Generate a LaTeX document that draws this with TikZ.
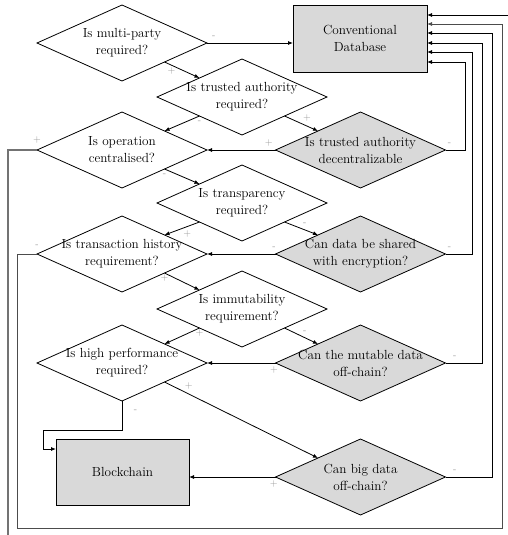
\documentclass[tikz,border=0pt]{standalone}
\usepackage{tikz}
\usetikzlibrary{
  arrows.meta,
  calc,
  positioning,
  shapes,
}
\tikzstyle{arrow} = [
  -{Latex[length=5pt, width=4pt]},
  line width=0.8pt,
  black,
]
\definecolor{boxgray}{RGB}{217, 217, 217}
\definecolor{signgray}{RGB}{150, 150, 150}

\begin{document}
\begin{tikzpicture}[x=1pt, y=-1pt,
    dia/.style={draw, diamond, minimum width=170pt, minimum height=76pt,
                inner sep=0pt, outer sep=0pt, line width=0.8pt},
    gdia/.style={dia, fill=boxgray},
    box/.style={draw, fill=boxgray, line width=0.8pt, minimum width=134pt,
                minimum height=67pt, outer sep=0pt},
    txt/.style={align=center, font=\fontsize{13.2}{17}\selectfont},
    sign/.style={text=signgray, font=\fontsize{10}{10}\selectfont,
                 text height=6pt, text depth=1pt, inner sep=1.5pt}]
      \useasboundingbox (0,0) rectangle (508,535);

      \node [box, txt] (db) at (360,38.5) {Conventional\\Database};
      \node [box, txt, minimum width=133pt, minimum height=66pt] (bc) at (122.5,472)
            {Blockchain};

      \node [dia, label={[txt]center:Is multi-party\\required?}] (party) at (122,43) {};
      \node [dia, label={[txt]center:Is trusted authority\\required?}] (trust) at (242,97) {};
      \node [dia, label={[txt]center:Is operation\\centralised?}] (central) at (122,150) {};
      \node [gdia, label={[txt]center:Is trusted authority\\decentralizable}] (decent)
            at (360.5,150) {};
      \node [dia, label={[txt]center:Is transparency\\required?}] (transp) at (242,203) {};
      \node [dia, label={[txt]center:Is transaction history\\requirement?}] (history)
            at (122,254) {};
      \node [gdia, label={[txt]center:Can data be shared\\with encryption?}] (encrypt)
            at (360.5,254) {};
      \node [dia, label={[txt]center:Is immutability\\requirement?}] (immut) at (242,309) {};
      \node [dia, label={[txt]center:Is high performance\\required?}] (perf) at (122,363) {};
      \node [gdia, label={[txt]center:Can the mutable data\\off-chain?}] (mutable)
            at (360.5,363) {};
      \node [gdia, label={[txt]center:Can big data\\off-chain?}] (bigdata) at (360.5,477) {};

      \coordinate (loopsw) at (17,528);
      \coordinate (loopse) at (502,528);
      \coordinate (exitsw) at (8,535);
      \coordinate (exitne) at (508,15);

      % answers between the questions
      \draw [arrow] (party.east) -- node [sign, pos=0.08, above=2pt] {-} (party.east -| db.west);
      \draw [arrow] (party.south east) -- node [sign, pos=0.2, below] {+} (trust.north west);
      \draw [arrow] (trust.south west) -- node [sign, pos=0, below] {-} (central.north east);
      \draw [arrow] (trust.south east) -- node [sign, pos=0.5, above right] {+} (decent.north west);
      \draw [arrow] (decent.west) -- node [sign, pos=0.1, above=2pt] {+} (central.east);
      \draw [arrow] (central.south east) -- node [sign, pos=0, below] {-} (transp.north west);
      \draw [arrow] (transp.south west) -- node [sign, pos=0.35, below=2pt] {+} (history.north east);
      \draw [arrow] (transp.south east) -- node [sign, pos=0.5, above right] {-} (encrypt.north west);
      \draw [arrow] (encrypt.west) -- node [sign, pos=0.02, above=2pt] {-} (history.east);
      \draw [arrow] (history.south east) -- node [sign, pos=0, below] {+} (immut.north west);
      \draw [arrow] (immut.south west) -- node [sign, pos=0, below] {+} (perf.north east);
      \draw [arrow] (immut.south east) -- node [sign, pos=0.5, above right] {-} (mutable.north west);
      \draw [arrow] (mutable.west) -- node [sign, pos=0.02, below=2pt] {+} (perf.east);
      \draw [arrow] (perf.south east) -- node [sign, pos=0.12, above right] {+} (bigdata.north west);
      \draw [arrow] (bigdata.west) -- node [sign, pos=0.02, below=2pt] {+} (bc.east |- bigdata.west);
      \draw [arrow] (perf.south) -- node [sign, pos=0.3, right=10pt] {-} ++(0,29) -- ++(-79,0)
            |- (bc.west |- 0,449);

      % negative answers back to the database
      \draw [arrow] (decent.east) -- node [sign, pos=0.2, above=2pt] {-} ++(20,0)
            |- (db.east |- 0,62);
      \draw [arrow] (encrypt.east) -- node [sign, pos=0.15, above=2pt] {-} ++(27,0)
            |- (db.east |- 0,52);
      \draw [arrow] (mutable.east) -- node [sign, pos=0.25, above=2pt] {-} ++(37,0)
            |- (db.east |- 0,43);
      \draw [arrow] (bigdata.east) -- node [sign, pos=0.2, above=2pt] {-} ++(47,0)
            |- (db.east |- 0,33);
      \draw [arrow, black!70] (history.west) -- node [sign, pos=0, above=4pt] {-}
            (history.west -| loopsw) -- (loopsw) -- (loopse) |- (db.east |- 0,24);
      \draw [arrow] (exitne) -- (db.east |- exitne);

      % branch leaving the picture
      \draw [black!55, line width=1.3pt] (central.west) -- node [sign, pos=0, above=4pt] {+}
            (central.west -| exitsw) -- (exitsw);
    \end{tikzpicture}
\end{document}
